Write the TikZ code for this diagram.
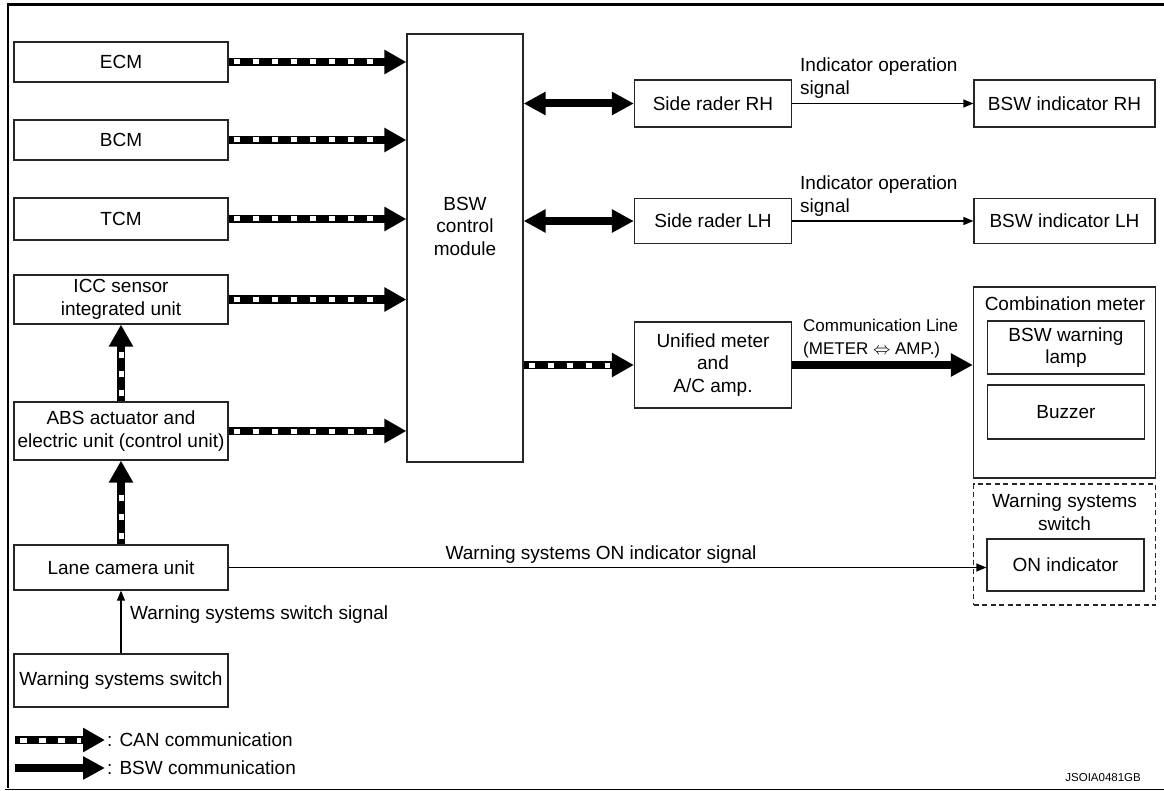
\documentclass[tikz,border=0pt]{standalone}
\usepackage{fontspec}
\setmainfont{Liberation Sans}
\usetikzlibrary{arrows.meta, positioning}
\newcommand{\diagfont}{\fontsize{19}{22.5}\selectfont}
\newcommand{\smallfont}{\fontsize{17}{22.5}\selectfont}
\tikzset{
    box/.style={rectangle, draw=black!85, line width=1.2pt, fill=white, inner sep=0pt, align=center, font=\diagfont},
    dashbox/.style={rectangle, draw=black!85, line width=1.2pt, dashed, dash pattern=on 5pt off 3.5pt, inner sep=0pt},
    lbl/.style={inner sep=0pt, align=left, font=\diagfont},
    canline/.style={line width=8.5pt, -{Triangle[length=22pt, width=23pt]},
        postaction={draw=white, line width=5pt, dash pattern=on 6.5pt off 12.5pt, dash phase=-3pt, -, shorten >=24pt, shorten <=2pt}},
    bswline/.style={line width=8pt, {Triangle[length=22pt, width=22pt]}-{Triangle[length=22pt, width=22pt]}},
    bswarrow/.style={line width=8pt, -{Triangle[length=22pt, width=22pt]}},
    thinarrow/.style={line width=1.2pt, -{Triangle[length=10pt, width=8pt]}}
}

\begin{document}
\begin{tikzpicture}[x=1pt, y=-1pt]
    \useasboundingbox (0,0) rectangle (1164,791);
    % frame
    \draw[line width=2.7pt] (8,788) -- (8,4.7) -- (1164,4.7);
    \draw[line width=1pt] (5,789.5) -- (1164,789.5);

    % left column
    \node[box, minimum width=214pt, minimum height=40pt] (ecm) at (121,62) {ECM};
    \node[box, minimum width=214pt, minimum height=40pt] (bcm) at (121,140) {BCM};
    \node[box, minimum width=214pt, minimum height=42pt] (tcm) at (121,219) {TCM};
    \node[box, minimum width=214pt, minimum height=49pt] (icc) at (121,299.5) {ICC sensor\\integrated unit};
    \node[box, minimum width=214pt, minimum height=58pt] (abs) at (121,431) {ABS actuator and\\electric unit (control unit)};
    \node[box, minimum width=214pt, minimum height=45pt] (lane) at (121,567.5) {Lane camera unit};
    \node[box, minimum width=214pt, minimum height=53pt] (wss) at (121,680.5) {Warning systems switch};

    % control module
    \node[box, minimum width=116pt, minimum height=428pt] (bsw) at (465,248) {};
    \node[lbl, align=center] (bswtext) at (465,226) {BSW\\control\\module};

    % right side
    \node[box, minimum width=157pt, minimum height=47pt] (siderh) at (713,103.5) {Side rader RH};
    \node[box, minimum width=181pt, minimum height=47pt] (indrh) at (1064.5,103.5) {BSW indicator RH};
    \node[box, minimum width=157pt, minimum height=45pt] (sidelh) at (713,221) {Side rader LH};
    \node[box, minimum width=181pt, minimum height=45pt] (indlh) at (1064.5,221) {BSW indicator LH};
    \node[box, minimum width=157pt, minimum height=86pt] (unified) at (713,365) {Unified meter\\and\\A/C amp.};

    \node[box, minimum width=182pt, minimum height=191pt] (combo) at (1064.5,382.5) {};
    \node[lbl] (combotext) at (1065,304) {Combination meter};
    \node[box, minimum width=157pt, minimum height=53pt] (lamp) at (1066,347.5) {BSW warning\\lamp};
    \node[box, minimum width=157pt, minimum height=54pt] (buzzer) at (1066,412) {Buzzer};

    \node[dashbox, minimum width=182pt, minimum height=121pt] (wsbox) at (1064.5,544.5) {};
    \node[lbl, align=center] (wstext) at (1064.5,512) {Warning systems\\switch};
    \node[box, minimum width=157pt, minimum height=52pt] (onind) at (1065.5,565) {ON indicator};

    % CAN lines
    \draw[canline] (ecm.east) -- (ecm.east -| bsw.west);
    \draw[canline] (bcm.east) -- (bcm.east -| bsw.west);
    \draw[canline] (tcm.east) -- (tcm.east -| bsw.west);
    \draw[canline] (icc.east) -- (icc.east -| bsw.west);
    \draw[canline] (abs.east) -- (abs.east -| bsw.west);
    \draw[canline] (abs) -- (icc);
    \draw[canline] (lane) -- (abs);
    \draw[canline] (unified.west -| bsw.east) -- (unified.west);

    % BSW lines
    \draw[bswline] (siderh.west -| bsw.east) -- (siderh.west);
    \draw[bswline] (sidelh.west -| bsw.east) -- (sidelh.west);
    \draw[bswarrow] (unified.east) -- (unified.east -| combo.west);

    % signals
    \draw[thinarrow] (siderh) -- (indrh);
    \draw[thinarrow] (sidelh) -- (indlh);
    \draw[thinarrow] (lane.east) -- (lane.east -| onind.west);
    \draw[thinarrow] (wss) -- (lane);

    \node[lbl, anchor=west] (oprh) at (800,78) {Indicator operation\\signal};
    \node[lbl, anchor=west] (oplh) at (800,196) {Indicator operation\\signal};
    \node[lbl, anchor=west, font=\smallfont] (commline) at (803,338.5) {Communication Line\\(METER $\Leftrightarrow$ AMP.)};
    \node[lbl] (onsignal) at (601,555) {Warning systems ON indicator signal};
    \node[lbl, anchor=west] (swsignal) at (130,615) {Warning systems switch signal};

    % legend
    \coordinate (canfrom) at (15,740);
    \coordinate (canto) at (105,740);
    \coordinate (bswfrom) at (15,768);
    \coordinate (bswto) at (105,768);
    \draw[canline] (canfrom) -- (canto);
    \draw[bswarrow] (bswfrom) -- (bswto);
    \node[lbl, anchor=west] (canlegend) at (107,740) {: CAN communication};
    \node[lbl, anchor=west] (bswlegend) at (107,768) {: BSW communication};

    \node[inner sep=0pt, font=\fontsize{11.5}{13}\selectfont, anchor=east] (code) at (1141,778) {JSOIA0481GB};
\end{tikzpicture}
\end{document}
